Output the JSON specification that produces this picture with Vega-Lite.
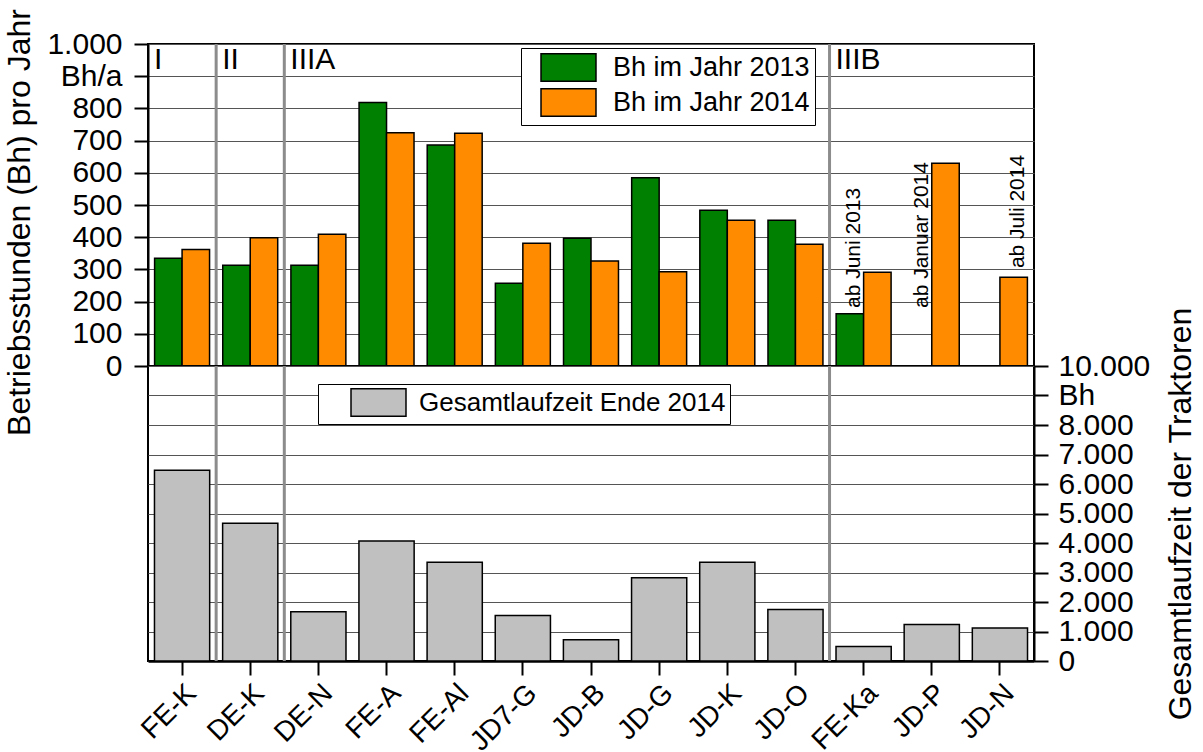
{
  "$schema": "https://vega.github.io/schema/vega-lite/v6.json",
  "padding": {"left": 2, "top": 7, "right": 2, "bottom": 0},
  "config": {
    "font": "Liberation Sans",
    "view": {"stroke": "black", "strokeWidth": 2},
    "axis": {"labelColor": "black", "titleColor": "black", "titleFontWeight": "normal", "labelFont": "Liberation Sans", "titleFont": "Liberation Sans", "labelOverlap": false},
    "legend": {"labelFont": "Liberation Sans", "labelLimit": 500}
  },
  "datasets": {
    "bh": [
      {"Traktor": "FE-K", "Jahr": "Bh im Jahr 2013", "Bh": 335},
      {"Traktor": "FE-K", "Jahr": "Bh im Jahr 2014", "Bh": 362},
      {"Traktor": "DE-K", "Jahr": "Bh im Jahr 2013", "Bh": 313},
      {"Traktor": "DE-K", "Jahr": "Bh im Jahr 2014", "Bh": 398},
      {"Traktor": "DE-N", "Jahr": "Bh im Jahr 2013", "Bh": 313},
      {"Traktor": "DE-N", "Jahr": "Bh im Jahr 2014", "Bh": 409},
      {"Traktor": "FE-A", "Jahr": "Bh im Jahr 2013", "Bh": 818},
      {"Traktor": "FE-A", "Jahr": "Bh im Jahr 2014", "Bh": 724},
      {"Traktor": "FE-Al", "Jahr": "Bh im Jahr 2013", "Bh": 686},
      {"Traktor": "FE-Al", "Jahr": "Bh im Jahr 2014", "Bh": 723},
      {"Traktor": "JD7-G", "Jahr": "Bh im Jahr 2013", "Bh": 257},
      {"Traktor": "JD7-G", "Jahr": "Bh im Jahr 2014", "Bh": 381},
      {"Traktor": "JD-B", "Jahr": "Bh im Jahr 2013", "Bh": 397},
      {"Traktor": "JD-B", "Jahr": "Bh im Jahr 2014", "Bh": 326},
      {"Traktor": "JD-G", "Jahr": "Bh im Jahr 2013", "Bh": 585},
      {"Traktor": "JD-G", "Jahr": "Bh im Jahr 2014", "Bh": 293},
      {"Traktor": "JD-K", "Jahr": "Bh im Jahr 2013", "Bh": 484},
      {"Traktor": "JD-K", "Jahr": "Bh im Jahr 2014", "Bh": 453},
      {"Traktor": "JD-O", "Jahr": "Bh im Jahr 2013", "Bh": 453},
      {"Traktor": "JD-O", "Jahr": "Bh im Jahr 2014", "Bh": 378},
      {"Traktor": "FE-Ka", "Jahr": "Bh im Jahr 2013", "Bh": 162},
      {"Traktor": "FE-Ka", "Jahr": "Bh im Jahr 2014", "Bh": 291},
      {"Traktor": "JD-P", "Jahr": "Bh im Jahr 2014", "Bh": 630},
      {"Traktor": "JD-N", "Jahr": "Bh im Jahr 2014", "Bh": 276}
    ],
    "gesamt": [
      {"Traktor": "FE-K", "Stunden": 6470},
      {"Traktor": "DE-K", "Stunden": 4670},
      {"Traktor": "DE-N", "Stunden": 1670},
      {"Traktor": "FE-A", "Stunden": 4070},
      {"Traktor": "FE-Al", "Stunden": 3350},
      {"Traktor": "JD7-G", "Stunden": 1540},
      {"Traktor": "JD-B", "Stunden": 720},
      {"Traktor": "JD-G", "Stunden": 2820},
      {"Traktor": "JD-K", "Stunden": 3350},
      {"Traktor": "JD-O", "Stunden": 1750},
      {"Traktor": "FE-Ka", "Stunden": 490},
      {"Traktor": "JD-P", "Stunden": 1240},
      {"Traktor": "JD-N", "Stunden": 1120}
    ],
    "grenzen": [
      {"Traktor": "DE-K"},
      {"Traktor": "DE-N"},
      {"Traktor": "FE-Ka"}
    ],
    "abschnitte": [
      {"Traktor": "FE-K", "Abschnitt": "I"},
      {"Traktor": "DE-K", "Abschnitt": "II"},
      {"Traktor": "DE-N", "Abschnitt": "IIIA"},
      {"Traktor": "FE-Ka", "Abschnitt": "IIIB"}
    ],
    "hinweise": [
      {"Traktor": "FE-Ka", "Jahr": "Bh im Jahr 2013", "Hinweis": "ab Juni 2013", "Anker": 180},
      {"Traktor": "JD-P", "Jahr": "Bh im Jahr 2013", "Hinweis": "ab Januar 2014", "Anker": 180},
      {"Traktor": "JD-N", "Jahr": "Bh im Jahr 2014", "Hinweis": "ab Juli 2014", "Anker": 304}
    ]
  },
  "bounds": "flush",
  "spacing": 0,
  "resolve": {"scale": {"color": "independent", "fill": "independent", "x": "independent", "y": "independent"}},
  "vconcat": [
    {
      "width": 886,
      "height": 322,
      "layer": [
        {
          "data": {"name": "grenzen"},
          "mark": {"type": "rule", "color": "#8c8c8c", "strokeWidth": 3},
          "encoding": {
            "x": {"field": "Traktor", "type": "nominal", "bandPosition": 0, "axis": null,
              "scale": {"domain": ["FE-K", "DE-K", "DE-N", "FE-A", "FE-Al", "JD7-G", "JD-B", "JD-G", "JD-K", "JD-O", "FE-Ka", "JD-P", "JD-N"], "paddingInner": 0, "paddingOuter": 0}}
          }
        },
        {
          "data": {"name": "bh"},
          "mark": {"type": "bar", "stroke": "black", "strokeWidth": 1.5},
          "encoding": {
            "x": {"field": "Traktor", "type": "nominal", "axis": null,
              "scale": {"domain": ["FE-K", "DE-K", "DE-N", "FE-A", "FE-Al", "JD7-G", "JD-B", "JD-G", "JD-K", "JD-O", "FE-Ka", "JD-P", "JD-N"], "paddingInner": 0, "paddingOuter": 0}},
            "xOffset": {"field": "Jahr", "type": "nominal", "scale": {"domain": ["Bh im Jahr 2013", "Bh im Jahr 2014"], "paddingInner": 0, "paddingOuter": 0.24}},
            "y": {"field": "Bh", "type": "quantitative",
              "scale": {"domain": [0, 1000], "nice": false},
              "axis": {
                "orient": "left",
                "values": [0, 100, 200, 300, 400, 500, 600, 700, 800, 900, 1000],
                "labelExpr": "datum.value == 900 ? 'Bh/a' : replace(format(datum.value, ','), ',', '.')",
                "labelFontSize": 30, "labelPadding": 12, "labelOverlap": false, "labelFlush": false,
                "tickSize": 14, "tickWidth": 2, "tickColor": "black",
                "domainColor": "black", "domainWidth": 2,
                "grid": true, "gridColor": "#555555", "gridWidth": 1,
                "title": "Betriebsstunden (Bh) pro Jahr", "titleFontSize": 32, "titlePadding": 10, "titleY": 178
              }
            },
            "fill": {"field": "Jahr", "type": "nominal",
              "scale": {"domain": ["Bh im Jahr 2013", "Bh im Jahr 2014"], "range": ["#008000", "#ff8c00"]},
              "legend": {
                "orient": "none", "legendX": 373, "legendY": 4, "title": null, "direction": "vertical",
                "fillColor": "white", "strokeColor": "black", "padding": 5,
                "symbolType": "M-2,-1H2V1H-2Z", "symbolSize": 756,
                "symbolStrokeColor": "black", "symbolStrokeWidth": 1.5, "symbolOpacity": 1,
                "symbolOffset": 28, "labelOffset": 30, "labelFontSize": 27, "labelColor": "black",
                "rowPadding": 0, "labelLimit": 500,
                "encode": {"symbols": {"update": {"stroke": {"value": "black"}, "strokeWidth": {"value": 1.5}}}}
              }
            }
          }
        },
        {
          "data": {"name": "abschnitte"},
          "mark": {"type": "text", "align": "left", "baseline": "top", "dx": 6, "dy": 1, "fontSize": 30, "color": "black"},
          "encoding": {
            "x": {"field": "Traktor", "type": "nominal", "bandPosition": 0, "axis": null,
              "scale": {"domain": ["FE-K", "DE-K", "DE-N", "FE-A", "FE-Al", "JD7-G", "JD-B", "JD-G", "JD-K", "JD-O", "FE-Ka", "JD-P", "JD-N"], "paddingInner": 0, "paddingOuter": 0}},
            "y": {"datum": 1000, "type": "quantitative",
              "scale": {"domain": [0, 1000], "nice": false},
              "axis": {
                "orient": "left",
                "values": [0, 100, 200, 300, 400, 500, 600, 700, 800, 900, 1000],
                "labelExpr": "datum.value == 900 ? 'Bh/a' : replace(format(datum.value, ','), ',', '.')",
                "labelFontSize": 30, "labelPadding": 12, "labelOverlap": false, "labelFlush": false,
                "tickSize": 14, "tickWidth": 2, "tickColor": "black",
                "domainColor": "black", "domainWidth": 2,
                "grid": true, "gridColor": "#555555", "gridWidth": 1,
                "title": "Betriebsstunden (Bh) pro Jahr", "titleFontSize": 32, "titlePadding": 10, "titleY": 178
              }
            },
            "text": {"field": "Abschnitt"}
          }
        },
        {
          "data": {"name": "hinweise"},
          "mark": {"type": "text", "align": "left", "baseline": "middle", "angle": 270, "dy": 4, "fontSize": 21, "color": "black"},
          "encoding": {
            "x": {"field": "Traktor", "type": "nominal", "axis": null,
              "scale": {"domain": ["FE-K", "DE-K", "DE-N", "FE-A", "FE-Al", "JD7-G", "JD-B", "JD-G", "JD-K", "JD-O", "FE-Ka", "JD-P", "JD-N"], "paddingInner": 0, "paddingOuter": 0}},
            "xOffset": {"field": "Jahr", "type": "nominal"},
            "y": {"field": "Anker", "type": "quantitative",
              "scale": {"domain": [0, 1000], "nice": false},
              "axis": {
                "orient": "left",
                "values": [0, 100, 200, 300, 400, 500, 600, 700, 800, 900, 1000],
                "labelExpr": "datum.value == 900 ? 'Bh/a' : replace(format(datum.value, ','), ',', '.')",
                "labelFontSize": 30, "labelPadding": 12, "labelOverlap": false, "labelFlush": false,
                "tickSize": 14, "tickWidth": 2, "tickColor": "black",
                "domainColor": "black", "domainWidth": 2,
                "grid": true, "gridColor": "#555555", "gridWidth": 1,
                "title": "Betriebsstunden (Bh) pro Jahr", "titleFontSize": 32, "titlePadding": 10, "titleY": 178
              }
            },
            "text": {"field": "Hinweis"}
          }
        }
      ]
    },
    {
      "width": 886,
      "height": 295,
      "layer": [
        {
          "data": {"name": "grenzen"},
          "mark": {"type": "rule", "color": "#8c8c8c", "strokeWidth": 3},
          "encoding": {
            "x": {"field": "Traktor", "type": "nominal", "bandPosition": 0,
              "scale": {"domain": ["FE-K", "DE-K", "DE-N", "FE-A", "FE-Al", "JD7-G", "JD-B", "JD-G", "JD-K", "JD-O", "FE-Ka", "JD-P", "JD-N"], "paddingInner": 0, "paddingOuter": 0},
              "axis": {
                "orient": "bottom", "title": null, "labelAngle": -45, "labelFontSize": 28, "labelPadding": 4,
                "tickSize": 14, "tickWidth": 2, "tickColor": "black", "domainColor": "black", "domainWidth": 2.5,
                "grid": false, "labelOverlap": false
              }
            }
          }
        },
        {
          "data": {"name": "gesamt"},
          "mark": {"type": "bar", "stroke": "black", "strokeWidth": 1.5, "width": {"band": 0.81}},
          "encoding": {
            "x": {"field": "Traktor", "type": "nominal",
              "scale": {"domain": ["FE-K", "DE-K", "DE-N", "FE-A", "FE-Al", "JD7-G", "JD-B", "JD-G", "JD-K", "JD-O", "FE-Ka", "JD-P", "JD-N"], "paddingInner": 0, "paddingOuter": 0},
              "axis": {
                "orient": "bottom", "title": null, "labelAngle": -45, "labelFontSize": 28, "labelPadding": 4,
                "tickSize": 14, "tickWidth": 2, "tickColor": "black", "domainColor": "black", "domainWidth": 2.5,
                "grid": false, "labelOverlap": false
              }
            },
            "y": {"field": "Stunden", "type": "quantitative",
              "scale": {"domain": [0, 10000], "nice": false},
              "axis": {
                "orient": "right",
                "values": [0, 1000, 2000, 3000, 4000, 5000, 6000, 7000, 8000, 9000, 10000],
                "labelExpr": "datum.value == 9000 ? 'Bh' : replace(format(datum.value, ','), ',', '.')",
                "labelFontSize": 30, "labelPadding": 10, "labelOverlap": false, "labelFlush": false,
                "tickSize": 14, "tickWidth": 2, "tickColor": "black",
                "domainColor": "black", "domainWidth": 2,
                "grid": true, "gridColor": "#555555", "gridWidth": 1,
                "title": "Gesamtlaufzeit der Traktoren", "titleFontSize": 32, "titlePadding": 16, "titleAngle": 270, "titleBaseline": "top"
              }
            },
            "fill": {"datum": "Gesamtlaufzeit Ende 2014", "type": "nominal",
              "scale": {"domain": ["Gesamtlaufzeit Ende 2014"], "range": ["#c0c0c0"]},
              "legend": {
                "orient": "none", "legendX": 170, "legendY": 18, "title": null,
                "fillColor": "white", "strokeColor": "black", "padding": 4,
                "symbolType": "M-2,-1H2V1H-2Z", "symbolSize": 756,
                "symbolStrokeColor": "black", "symbolStrokeWidth": 1.5, "symbolOpacity": 1,
                "symbolOffset": 42, "labelOffset": 26, "labelFontSize": 26, "labelColor": "black", "labelLimit": 500,
                "encode": {"symbols": {"update": {"stroke": {"value": "black"}, "strokeWidth": {"value": 1.5}}}}
              }
            }
          }
        }
      ]
    }
  ]
}
